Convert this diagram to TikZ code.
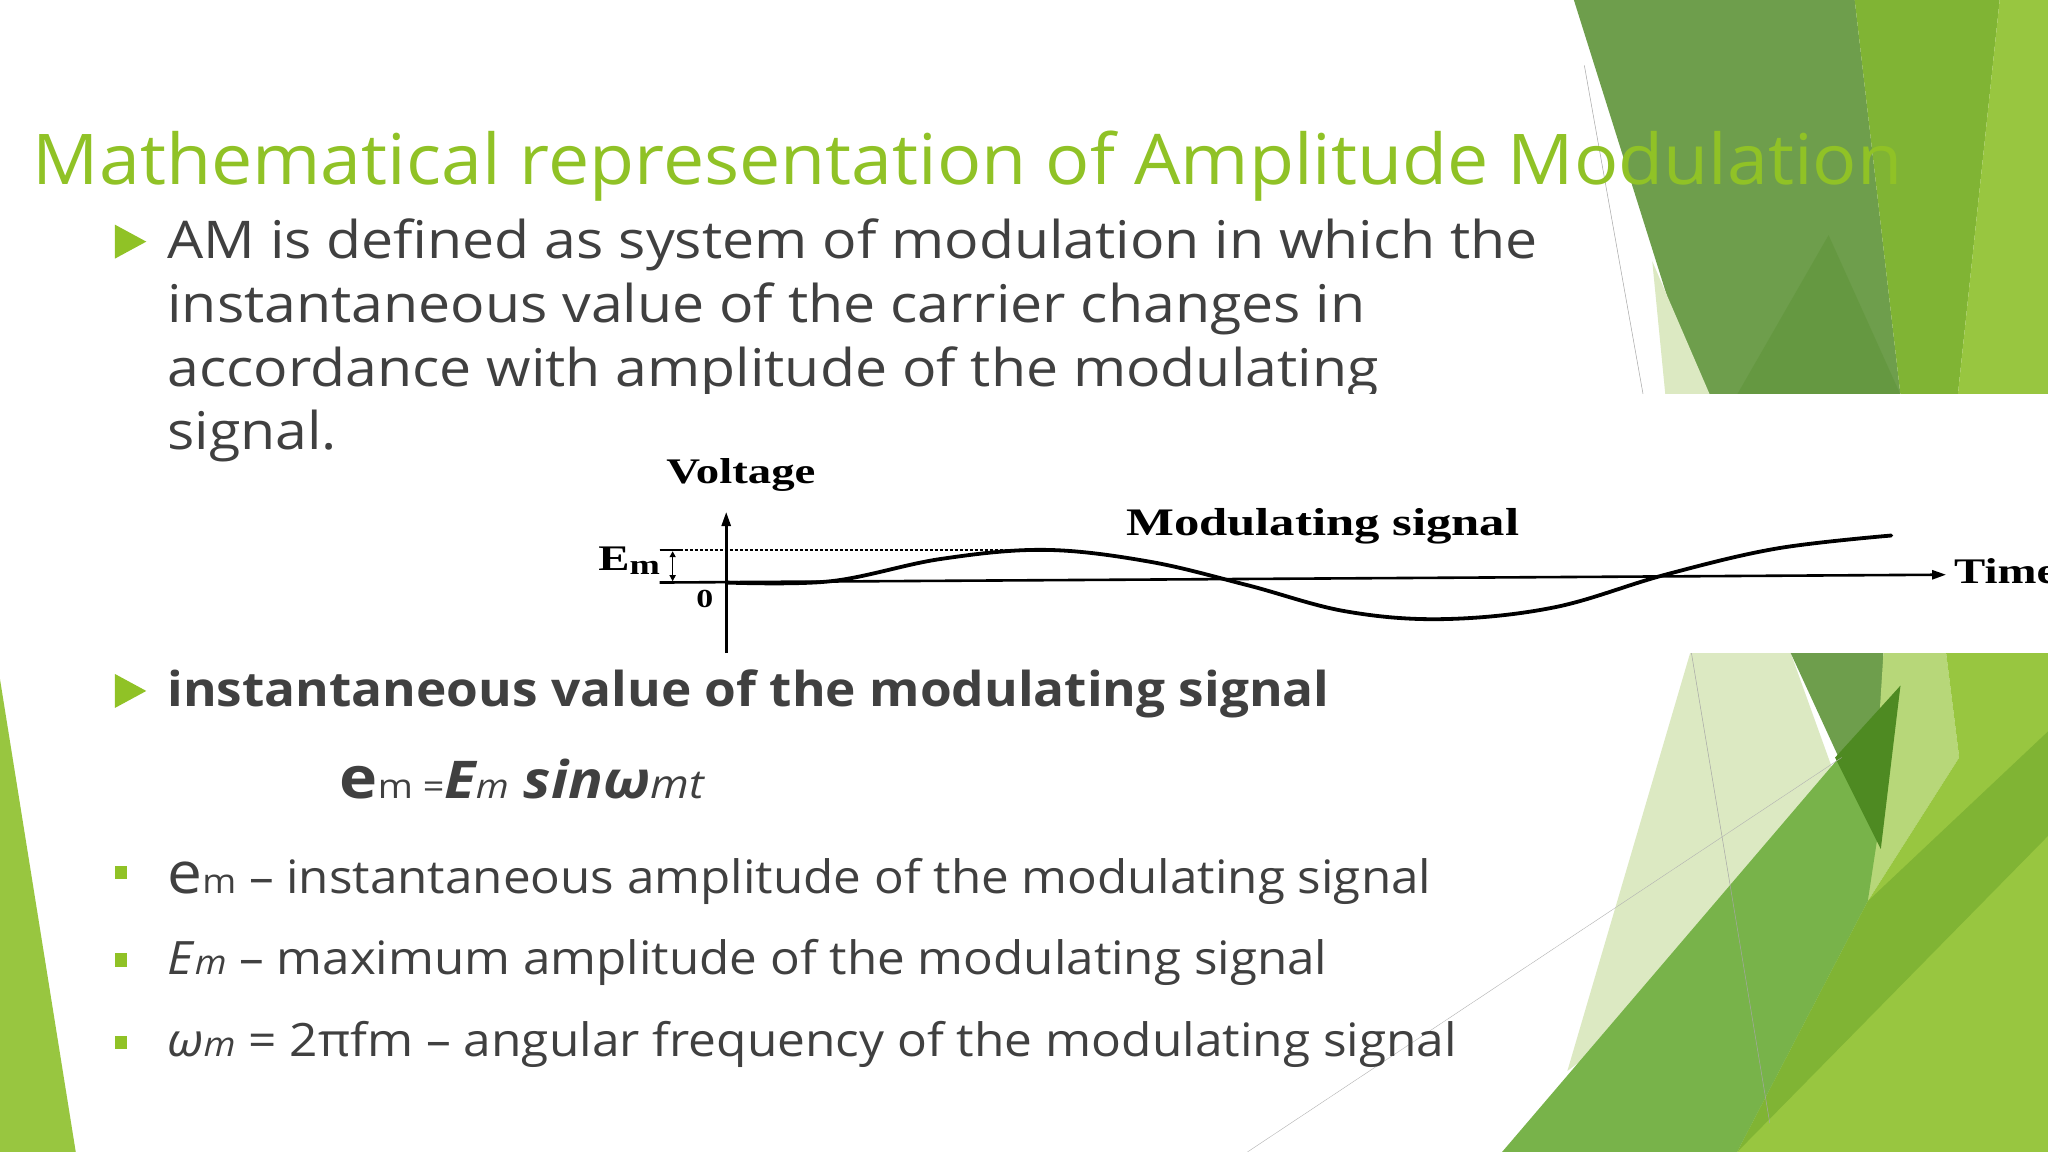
\documentclass[tikz,border=0pt]{standalone}
\usepackage{fontspec}
\setmainfont{Open Sans}
\newfontfamily\chartfont{Liberation Serif}
\usetikzlibrary{arrows.meta}
\definecolor{ttl}{HTML}{90C226}
\definecolor{bodyc}{HTML}{404040}
\definecolor{gA}{HTML}{6E9E4C}
\definecolor{gB}{HTML}{80B434}
\definecolor{gC}{HTML}{98C640}
\definecolor{gD}{HTML}{DCE9C2}
\definecolor{gE}{HTML}{78B34A}
\definecolor{gF}{HTML}{4E8A22}
\tikzset{
 body/.style={anchor=base west,inner sep=0pt,text=bodyc,font=\fontsize{52}{60}\selectfont,xscale=1.1},
 tri/.style={fill=ttl,draw=none},
 sq/.style={fill=ttl,draw=none},
 chart/.style={inner sep=0pt,font=\chartfont\bfseries\fontsize{36}{40}\selectfont,text=black,xscale=1.3},
 ax/.style={line width=2.6pt,-{Triangle[length=14pt,width=9pt]}},
}
\begin{document}
\begin{tikzpicture}[x=1.306pt,y=-1.306pt]
\useasboundingbox (0,0) rectangle (1568,882);
\fill[white] (0,0) rectangle (1568,882);
% top right background
\fill[gA] (1205,0) -- (1420,0) -- (1455,302) -- (1300,302) -- cycle;
\fill[gB] (1420,0) -- (1531,0) -- (1499,302) -- (1455,302) -- cycle;
\fill[gC] (1531,0) -- (1568,0) -- (1568,302) -- (1499,302) -- cycle;
\fill[gD] (1265,200) -- (1309,302) -- (1275,302) -- cycle;
\fill[gF,opacity=0.25] (1330,302) -- (1400,180) -- (1455,302) -- cycle;
\draw[gray!70,line width=0.5pt] (1213,50) -- (1258,302);
% bottom right background
\fill[gD] (1200,820) -- (1294,500) -- (1371,500) -- (1425,650) -- cycle;
\fill[gA] (1371,500) -- (1442,500) -- (1440,650) -- cycle;
\fill[gC!70!white] (1442,500) -- (1490,500) -- (1500,580) -- (1430,690) -- cycle;
\fill[gC] (1490,500) -- (1568,500) -- (1568,882) -- (1330,882) -- (1430,690) -- (1500,580) -- cycle;
\fill[gE] (1150,882) -- (1455,525) -- (1430,690) -- (1330,882) -- cycle;
\fill[gF] (1405,580) -- (1455,525) -- (1440,650) -- cycle;
\fill[gB] (1330,882) -- (1430,690) -- (1568,560) -- (1568,640) -- cycle;
\draw[gray!70,line width=0.5pt] (1295,500) -- (1355,860);
\draw[gray!60,line width=0.4pt] (955,882) -- (1410,580);
% left strip
\fill[gC] (0,520) -- (58,882) -- (0,882) -- cycle;
% chart panel
\fill[white] (440,302) rectangle (1568,500);
\node[chart,anchor=base west] (volt) at (510,370) {Voltage};
\node[chart,anchor=base west,font=\chartfont\bfseries\fontsize{39}{44}\selectfont] (mod) at (862,410) {Modulating signal};
\node[chart,anchor=base west] (time) at (1496,447) {Time};
\node[chart,anchor=base west] (em) at (458,437) {E\raisebox{-4pt}{\fontsize{28}{30}\selectfont m}};
\node[chart,anchor=base west,font=\chartfont\bfseries\fontsize{26}{28}\selectfont] (zero) at (533,465) {0};
\coordinate (yb) at (556,500); \coordinate (yt) at (556,392);
\coordinate (tl) at (505,446); \coordinate (tr) at (1490,440);
\draw[ax] (yb) -- (yt);
\draw[ax] (tl) -- (tr);
\draw[line width=1.4pt,densely dashed] (505,421) -- (800,421);
\draw[line width=1.4pt] (505,421) -- (522,421);
\draw[line width=1.4pt,{Triangle[length=6pt,width=6pt]}-{Triangle[length=6pt,width=6pt]}] (515,422) -- (515,445);
\draw[line width=3.8pt,line cap=round] plot[smooth,tension=0.6] coordinates {(556,446) (636,445) (720,428) (800,421) (880,430) (955,448) (1030,468) (1105,474) (1190,465) (1275,440) (1360,420) (1448,410)};
% title
\node[anchor=base west,inner sep=0pt,text=ttl,font=\fontsize{70}{80}\selectfont,xscale=1.05] (title) at (25,141) {Mathematical representation of Amplitude Modulation};
% bullet 1
\fill[tri] (88,172) -- (112,185) -- (88,198) -- cycle;
\node[body] (b1a) at (128,198) {AM is defined as system of modulation in which the};
\node[body] (b1b) at (128,247) {instantaneous value of the carrier changes in};
\node[body] (b1c) at (128,296) {accordance with amplitude of the modulating};
\node[body] (b1d) at (128,344) {signal.};
\fill[white] (440,302) rectangle (1080,306);
% bullet 2
\fill[tri] (88,516) -- (112,529) -- (88,542) -- cycle;
\node[body,font=\bfseries\fontsize{48}{60}\selectfont,xscale=0.973] (b2) at (128,541) {instantaneous value of the modulating signal};
\node[body,xscale=1.01] (formula) at (260,611) {\bfseries{\fontsize{58}{60}\selectfont e}{\mdseries\fontsize{34}{40}\selectfont m =}\itshape E{\mdseries\fontsize{34}{40}\selectfont m} {\fontsize{52}{60}\selectfont sinω}{\mdseries\fontsize{40}{40}\selectfont mt}};
% square bullets
\fill[sq] (88,663) rectangle (97,673);
\fill[sq] (88,730) rectangle (97,740);
\fill[sq] (88,793) rectangle (97,803);
\node[body,font=\fontsize{46}{56}\selectfont,xscale=0.975] (s1) at (128,684) {{\fontsize{58}{60}\selectfont e}{\fontsize{34}{40}\selectfont m} – instantaneous amplitude of the modulating signal};
\node[body,font=\fontsize{46}{56}\selectfont,xscale=0.975] (s2) at (128,746) {\textit{E}{\itshape\fontsize{34}{40}\selectfont m} – maximum amplitude of the modulating signal};
\node[body,font=\fontsize{46}{56}\selectfont,xscale=0.98] (s3) at (128,809) {\textit{ω}{\itshape\fontsize{34}{40}\selectfont m} = 2πfm – angular frequency of the modulating signal};
\end{tikzpicture}
\end{document}
